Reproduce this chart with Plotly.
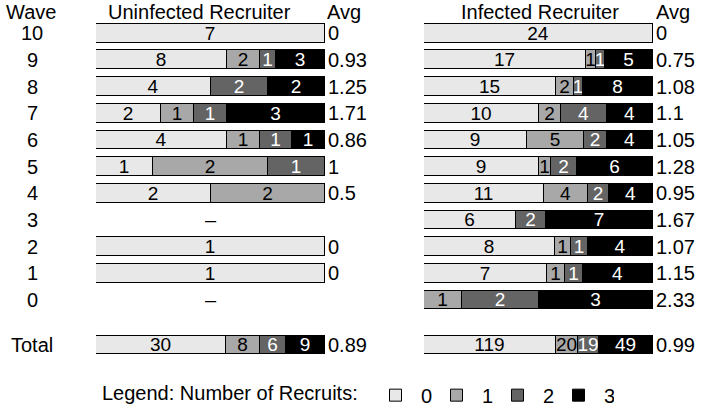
#!/bin/env python3

import plotly.graph_objects as go

# rows, top to bottom
waves = ["10", "9", "8", "7", "6", "5", "4", "3", "2", "1", "0", "Total"]
recruit_levels = ["0", "1", "2", "3"]

# counts of recruiters with 0 / 1 / 2 / 3 recruits (None = no data row)
uninf_0 = [7, 8, 4, 2, 4, 1, 2, None, 1, 1, None, 30]
uninf_1 = [0, 2, 0, 1, 1, 2, 2, None, 0, 0, None, 8]
uninf_2 = [0, 1, 2, 1, 1, 1, 0, None, 0, 0, None, 6]
uninf_3 = [0, 3, 2, 3, 1, 0, 0, None, 0, 0, None, 9]
uninf_avg = ["0", "0.93", "1.25", "1.71", "0.86", "1", "0.5", "", "0", "0", "", "0.89"]

inf_0 = [24, 17, 15, 10, 9, 9, 11, 6, 8, 7, 0, 119]
inf_1 = [0, 1, 2, 2, 5, 1, 4, 0, 1, 1, 1, 20]
inf_2 = [0, 1, 1, 4, 2, 2, 2, 2, 1, 1, 2, 19]
inf_3 = [0, 5, 8, 4, 4, 6, 4, 7, 4, 4, 3, 49]
inf_avg = ["0", "0.75", "1.08", "1.1", "1.05", "1.28", "0.95", "1.67", "1.07", "1.15", "2.33", "0.99"]

colors = ["#e8e8e8", "#a8a8a8", "#646464", "#000000"]
text_colors = ["black", "black", "white", "white"]
FONT = "Liberation Sans, Arial, Helvetica, sans-serif"
FS = 20

W, H = 704, 415


def px(x):
	return x / W


def py(y):
	return 1 - y / H


# vertical layout: one unit per wave, Total sits a bit lower
ROW_PX = 26.95
ypos = [10 - i for i in range(11)] + [-1.68]
ymax = 10 + 33.5 / ROW_PX
ymin = ymax - H / ROW_PX


def shares(series):
	rows = list(zip(*series))
	out = []
	for s in series:
		vals = []
		for i, v in enumerate(s):
			tot = sum(r for r in rows[i] if r)
			vals.append(v / tot if v else None)
		out.append(vals)
	return out


fig = go.Figure()

for panel, series, xa in [("uninf", [uninf_0, uninf_1, uninf_2, uninf_3], "x"),
						  ("inf", [inf_0, inf_1, inf_2, inf_3], "x2")]:
	fracs = shares(series)
	for k in range(4):
		fig.add_trace(go.Bar(
			y=ypos, x=fracs[k], orientation="h",
			xaxis=xa, yaxis="y",
			name=recruit_levels[k], legendgroup=recruit_levels[k],
			showlegend=(panel == "uninf"),
			width=0.705,
			marker=dict(color=colors[k], line=dict(color="black", width=1)),
			text=[str(v) if v else "" for v in series[k]],
			textposition="inside", insidetextanchor="middle",
			textangle=0, constraintext="none",
			textfont=dict(color=text_colors[k], size=FS - 1, family=FONT),
			hoverinfo="skip",
		))

ann = []
# wave labels
for w, y in zip(waves, ypos):
	ann.append(dict(x=px(32), y=y, xref="paper", yref="y", text=w,
					showarrow=False, xanchor="center"))
# averages
for avgs, xr in [(uninf_avg, "x domain"), (inf_avg, "x2 domain")]:
	for a, y in zip(avgs, ypos):
		if a:
			ann.append(dict(x=1, y=y, xref=xr, yref="y", text=a, xshift=1,
							showarrow=False, xanchor="left"))
# empty rows in the uninfected panel
for i, v in enumerate(uninf_0):
	if v is None:
		ann.append(dict(x=0.5, y=ypos[i], xref="x domain", yref="y", text="–",
						showarrow=False, xanchor="center"))
# headers
for txt, xp in [("Wave", 31), ("Uninfected Recruiter", 199), ("Avg", 344),
				("Infected Recruiter", 540), ("Avg", 673)]:
	ann.append(dict(x=px(xp), y=py(12), xref="paper", yref="paper", text=txt,
					showarrow=False, xanchor="center", yanchor="middle"))
ann.append(dict(x=px(100), y=py(397), xref="paper", yref="paper",
				text="Legend: Number of Recruits:", showarrow=False,
				xanchor="left", yanchor="middle"))

fig.update_layout(
	width=W, height=H,
	margin=dict(l=0, r=0, t=0, b=0),
	paper_bgcolor="white", plot_bgcolor="white",
	barmode="stack", bargap=0,
	font=dict(family=FONT, size=FS, color="black"),
	xaxis=dict(domain=[px(96), px(325)], range=[0, 1], visible=False, fixedrange=True),
	xaxis2=dict(domain=[px(424), px(653)], range=[0, 1], visible=False, fixedrange=True),
	yaxis=dict(range=[ymin, ymax], visible=False, fixedrange=True),
	annotations=ann,
	legend=dict(orientation="h", x=px(370), y=py(399), xanchor="left", yanchor="middle",
				font=dict(size=FS, family=FONT), itemwidth=41, entrywidth=5,
				itemclick=False),
)

# drop the default 8px page margin so the figure fills the window
fig.write_html("out.html", config={"displayModeBar": False},
			   post_script="document.body.style.margin='0';")
